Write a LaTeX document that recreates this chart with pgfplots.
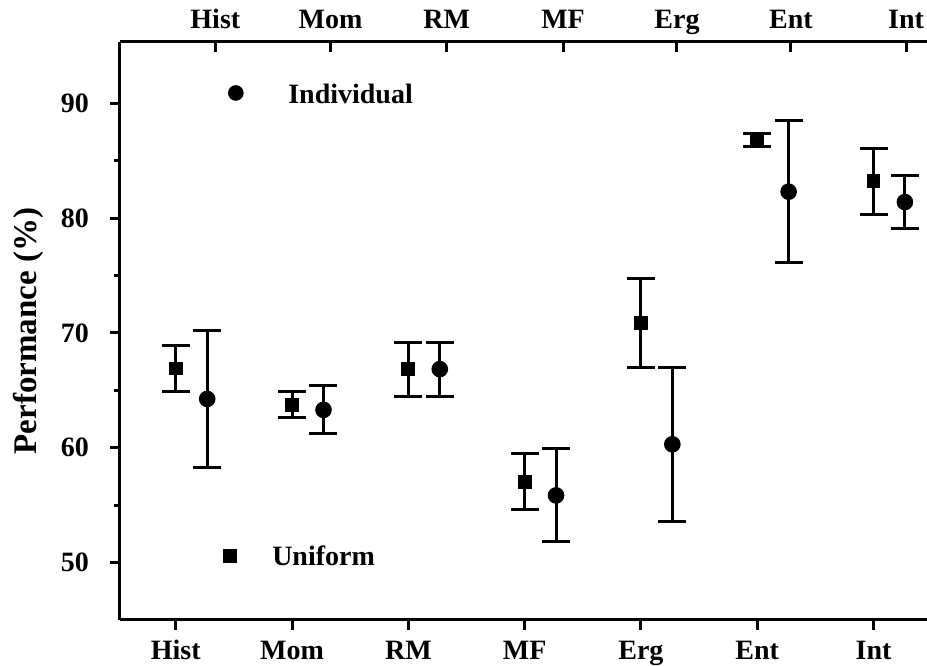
\documentclass[border=0pt]{standalone}
\usepackage{fontspec}
\setmainfont{Liberation Serif}
\usepackage{pgfplots}
\pgfplotsset{compat=1.18}
\usepackage{pgfplotstable}

\pgfplotstableread{
x y e
0 66.9 2.0
1 63.75 1.15
2 66.85 2.35
3 57.05 2.45
4 70.85 3.85
5 86.8 0.6
6 83.2 2.9
}\uniform

\pgfplotstableread{
x y e
0.27 64.25 5.95
1.27 63.3 2.1
2.27 66.85 2.35
3.27 55.85 4.05
4.27 60.3 6.7
5.27 82.3 6.2
6.27 81.4 2.3
}\individual

\newcommand{\bigfont}{\bfseries\fontsize{14}{16}\selectfont}

\pgfplotsset{
  common/.style={
    width=403.5pt, height=289pt, scale only axis,
    xmin=-0.48, xmax=6.46, ymin=45, ymax=95.34,
    axis line style={-, line width=1.5pt, black},
    every tick/.style={line width=1.5pt, black},
    major tick length=5pt, minor tick length=3pt,
    ticklabel style={font=\bigfont},
    xticklabel style={text height=1.6ex, text depth=0.3ex},
    /pgf/number format/assume math mode=true,
  },
}

\begin{document}
\begin{tikzpicture}
\useasboundingbox (-60pt,-23.5pt) rectangle (403.5pt,310pt);
\begin{axis}[common,
  axis x line*=bottom, axis y line*=left,
  tick align=outside,
  xtick={0,1,2,3,4,5,6},
  xticklabels={Hist,Mom,RM,MF,Erg,Ent,Int},
  xticklabel style={yshift=-4pt},
  ytick={50,60,70,80,90},
  minor ytick={55,65,75,85},
  yticklabel style={xshift=-7pt},
  ylabel={Performance (\%)},
  every axis y label/.style={at={(axis description cs:-0.114,0.5)}, rotate=90, anchor=center, font=\bfseries\fontsize{16.5}{19}\selectfont},
]
\addplot[only marks, black, mark=square*, mark size=3.2pt,
  mark options={solid, fill=black, line width=0.5pt},
  error bars/.cd, y dir=both, y explicit,
  error bar style={line width=1.5pt, black, solid},
  error mark options={rotate=90, mark size=7pt, line width=1.5pt, black}]
  table[x=x, y=y, y error=e]{\uniform};
\addplot[only marks, black, mark=*, mark size=3.9pt,
  mark options={solid, fill=black, line width=0.5pt},
  error bars/.cd, y dir=both, y explicit,
  error bar style={line width=1.5pt, black, solid},
  error mark options={rotate=90, mark size=7pt, line width=1.5pt, black}]
  table[x=x, y=y, y error=e]{\individual};
% legend markers
\addplot[only marks, black, mark=*, mark size=3.7pt, mark options={fill=black}] coordinates {(0.516,90.9)};
\addplot[only marks, black, mark=square*, mark size=3.2pt, mark options={fill=black}] coordinates {(0.465,50.6)};
\node[anchor=west, font=\bigfont, inner sep=0pt] at (axis cs:0.964,90.8) {Individual};
\node[anchor=west, font=\bigfont, inner sep=0pt] at (axis cs:0.826,50.6) {Uniform};
\end{axis}
\begin{axis}[common,
  axis x line*=top, axis y line=none,
  tick align=inside,
  xtick={0.34,1.33,2.33,3.33,4.31,5.29,6.28},
  xticklabels={Hist,Mom,RM,MF,Erg,Ent,Int},
  xticklabel style={yshift=2pt},
  ytick=\empty,
]
\end{axis}
\end{tikzpicture}
\end{document}
